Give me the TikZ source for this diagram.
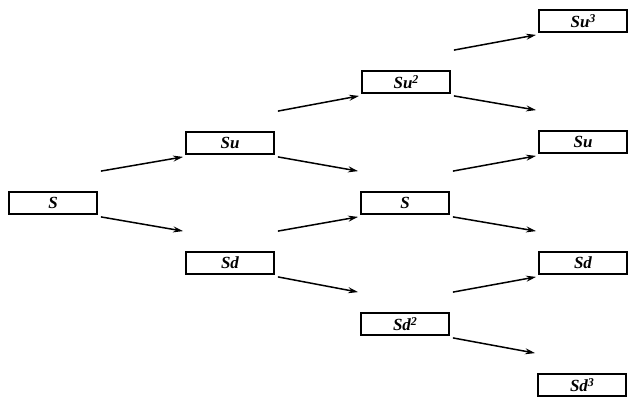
\documentclass[tikz,border=0pt]{standalone}
\usepackage{fontspec}
\setmainfont{Liberation Serif}
\usetikzlibrary{arrows.meta}
\newcommand{\pw}[1]{\raisebox{5pt}{\fontsize{12}{12}\selectfont #1}}
\begin{document}
\begin{tikzpicture}[
    x=1pt, y=-1pt,
    price/.style={rectangle, draw=black, line width=1.8pt, fill=white, minimum width=88pt, minimum height=22pt, inner sep=0pt, font=\fontsize{17}{19}\selectfont\bfseries\itshape},
    branch/.style={-{Stealth[length=10pt,width=6pt]}, line width=1.5pt}
]
\useasboundingbox (0,0) rectangle (628,398);

% Today
\node[price] (s0) at (53,203) {S};

% Step one
\node[price] (su) at (230,143) {Su};
\node[price] (sd) at (230,263) {Sd};

% Step two
\node[price] (suu) at (406,82) {Su\pw{2}};
\node[price] (sm) at (405,203) {S};
\node[price] (sdd) at (405,324) {Sd\pw{2}};

% Step three
\node[price] (suuu) at (583,21) {Su\pw{3}};
\node[price] (sur) at (583,142) {Su};
\node[price] (sdr) at (583,263) {Sd};
\node[price] (sddd) at (582,385) {Sd\pw{3}};

% Up moves
\draw[branch] ([xshift=3pt,yshift=20pt]s0.north east) -- ([xshift=-2pt,yshift=-2pt]su.south west);
\draw[branch] ([xshift=3pt,yshift=20pt]su.north east) -- ([xshift=-2pt,yshift=-2pt]suu.south west);
\draw[branch] ([xshift=3pt,yshift=20pt]sd.north east) -- ([xshift=-2pt,yshift=-2pt]sm.south west);
\draw[branch] ([xshift=3pt,yshift=20pt]suu.north east) -- ([xshift=-2pt,yshift=-2pt]suuu.south west);
\draw[branch] ([xshift=3pt,yshift=20pt]sm.north east) -- ([xshift=-2pt,yshift=-2pt]sur.south west);
\draw[branch] ([xshift=3pt,yshift=20pt]sdd.north east) -- ([xshift=-2pt,yshift=-2pt]sdr.south west);

% Down moves
\draw[branch] ([xshift=3pt,yshift=-2pt]s0.south east) -- ([xshift=-2pt,yshift=20pt]sd.north west);
\draw[branch] ([xshift=3pt,yshift=-2pt]su.south east) -- ([xshift=-2pt,yshift=20pt]sm.north west);
\draw[branch] ([xshift=3pt,yshift=-2pt]sd.south east) -- ([xshift=-2pt,yshift=20pt]sdd.north west);
\draw[branch] ([xshift=3pt,yshift=-2pt]suu.south east) -- ([xshift=-2pt,yshift=20pt]sur.north west);
\draw[branch] ([xshift=3pt,yshift=-2pt]sm.south east) -- ([xshift=-2pt,yshift=20pt]sdr.north west);
\draw[branch] ([xshift=3pt,yshift=-2pt]sdd.south east) -- ([xshift=-2pt,yshift=20pt]sddd.north west);

\end{tikzpicture}
\end{document}
